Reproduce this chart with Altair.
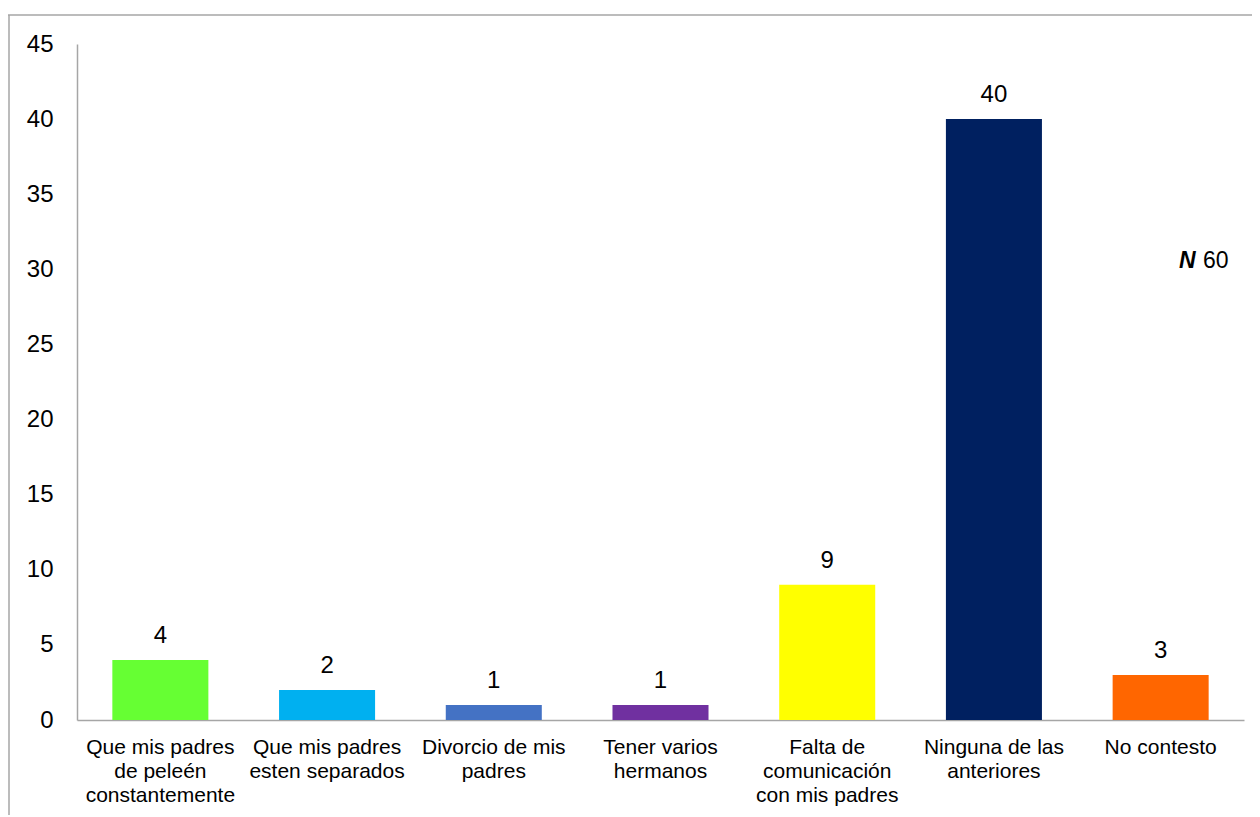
import altair as alt
import pandas as pd

categories = [
    "Que mis padres\nde peleén\nconstantemente",
    "Que mis padres\nesten separados",
    "Divorcio de mis\npadres",
    "Tener varios\nhermanos",
    "Falta de\ncomunicación\ncon mis padres",
    "Ninguna de las\nanteriores",
    "No contesto",
]
values = [4, 2, 1, 1, 9, 40, 3]
colors = ["#66FF33", "#00B0F0", "#4472C4", "#7030A0", "#FFFF00", "#002060", "#FF6600"]
y_ticks = [0, 5, 10, 15, 20, 25, 30, 35, 40, 45]

FONT = "Liberation Sans"
GREY = "#A6A6A6"

df = pd.DataFrame({"cat": categories, "val": values, "color": colors})

x = alt.X(
    "cat:N",
    sort=categories,
    scale=alt.Scale(paddingInner=0.424, paddingOuter=0.212),
    axis=alt.Axis(
        title=None,
        labelAngle=0,
        labelExpr="split(datum.label, '\\n')",
        labelFont=FONT,
        labelFontSize=21,
        labelLineHeight=24,
        labelColor="#000000",
        labelPadding=16,
        labelBaseline="top",
        ticks=False,
        domainColor=GREY,
        domainWidth=1.5,
        labelLimit=300,
    ),
)
y = alt.Y(
    "val:Q",
    scale=alt.Scale(domain=[0, 45], nice=False),
    axis=alt.Axis(
        title=None,
        values=y_ticks,
        grid=False,
        ticks=False,
        labelFont=FONT,
        labelFontSize=24,
        labelColor="#000000",
        labelPadding=24,
        domainColor=GREY,
        domainWidth=1.5,
    ),
)

bars = alt.Chart(df).mark_bar().encode(
    x=x, y=y, color=alt.Color("color:N", scale=None)
)
labels = alt.Chart(df).mark_text(
    font=FONT, fontSize=24, baseline="alphabetic", dy=-17, color="#000000"
).encode(x=alt.X("cat:N", sort=categories), y="val:Q", text="val:Q")

n_bold = alt.Chart(pd.DataFrame({"t": ["N"]})).mark_text(
    font=FONT, fontSize=23, fontWeight="bold", fontStyle="italic",
    align="left", baseline="alphabetic", color="#000000"
).encode(x=alt.value(1102), y=alt.value(224), text="t:N")
n_val = alt.Chart(pd.DataFrame({"t": ["60"]})).mark_text(
    font=FONT, fontSize=23, align="left", baseline="alphabetic", color="#000000"
).encode(x=alt.value(1126), y=alt.value(224), text="t:N")

border_top = alt.Chart(pd.DataFrame({"a": [0]})).mark_rule(
    color=GREY, strokeWidth=1.5
).encode(x=alt.value(-69), x2=alt.value(1180), y=alt.value(-29))
border_left = alt.Chart(pd.DataFrame({"a": [0]})).mark_rule(
    color=GREY, strokeWidth=1.5
).encode(x=alt.value(-68), y=alt.value(-29), y2=alt.value(780))

chart = alt.layer(bars, labels, n_bold, n_val, border_top, border_left).properties(
    width=1167,
    height=676,
    background="white",
    autosize=alt.AutoSizeParams(type="none"),
    padding={"left": 69, "top": 36, "right": 8, "bottom": 95},
).configure_view(stroke=None)

chart.save("out.html", embed_options={"renderer": "svg", "actions": False})
